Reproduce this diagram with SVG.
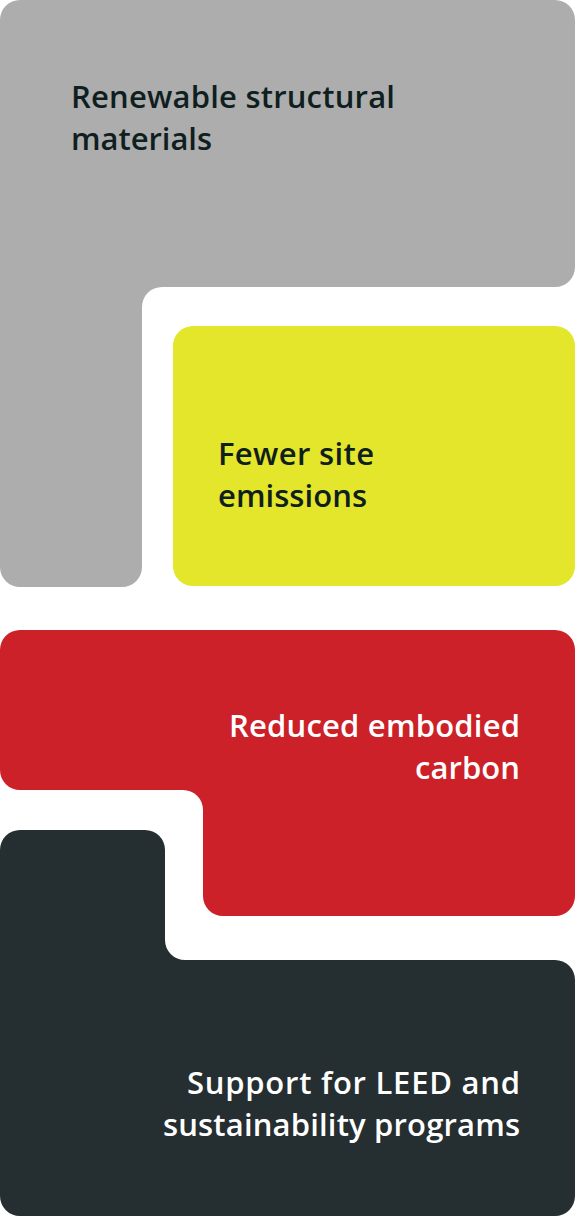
<svg xmlns="http://www.w3.org/2000/svg" width="575" height="1217" viewBox="0 0 575 1217">
<style>
.t{font-family:"Open Sans",Lato,"Liberation Sans",sans-serif;font-size:31px;font-weight:600}
.dk{fill:#0f1e1e}
.wh{fill:#ffffff}
.r{text-anchor:end}
</style>
<rect width="575" height="1217" fill="#ffffff"/>
<g id="node-renewable">
<path d="M20,0 H555 A20,20 0 0 1 575,20 V267 A20,20 0 0 1 555,287 H162 A20,20 0 0 0 142,307 V567 A20,20 0 0 1 122,587 H20 A20,20 0 0 1 0,567 V20 A20,20 0 0 1 20,0 Z" fill="#adadad"/>
<text class="t dk" x="71" y="108" textLength="324">Renewable structural</text>
<text class="t dk" x="71" y="150" textLength="141">materials</text>
</g>
<g id="node-emissions">
<rect x="173" y="326" width="402" height="260" rx="20" fill="#e3e62a"/>
<text class="t dk" x="218" y="465" textLength="156">Fewer site</text>
<text class="t dk" x="218" y="507" textLength="149">emissions</text>
</g>
<g id="node-carbon">
<path d="M20,630 H555 A20,20 0 0 1 575,650 V896 A20,20 0 0 1 555,916 H223 A20,20 0 0 1 203,896 V810 A20,20 0 0 0 183,790 H20 A20,20 0 0 1 0,770 V650 A20,20 0 0 1 20,630 Z" fill="#cc2128"/>
<text class="t wh r" x="520" y="737" textLength="291">Reduced embodied</text>
<text class="t wh r" x="520" y="779" textLength="105">carbon</text>
</g>
<g id="node-leed">
<path d="M20,830 H145 A20,20 0 0 1 165,850 V940 A20,20 0 0 0 185,960 H555 A20,20 0 0 1 575,980 V1196 A20,20 0 0 1 555,1216 H20 A20,20 0 0 1 0,1196 V850 A20,20 0 0 1 20,830 Z" fill="#252e30"/>
<text class="t wh r" x="520" y="1094" textLength="333">Support for LEED and</text>
<text class="t wh r" x="520" y="1136" textLength="357">sustainability programs</text>
</g>
<g id="connectors"></g>
</svg>
